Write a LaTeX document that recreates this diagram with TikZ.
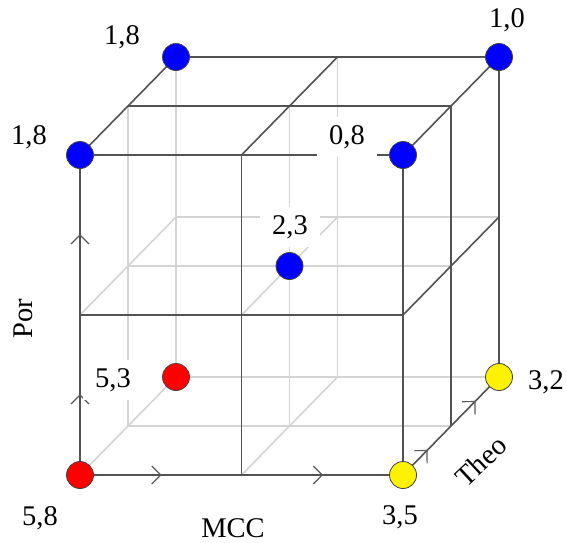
\documentclass[tikz,border=0pt]{standalone}
\usepackage{fontspec}
\setmainfont{Liberation Serif}
\usetikzlibrary{decorations.markings}
\begin{document}
\begin{tikzpicture}[x=1pt,y=-1pt,
  darkline/.style={draw=black!68, line width=1.6pt},
  lightline/.style={draw=black!17, line width=1.6pt},
  lbl/.style={font=\fontsize{28.5}{33}\selectfont, inner sep=0pt},
  numlbl/.style={lbl, fill=white, inner xsep=12pt, inner ysep=8pt},
  dotnode/.style={circle, draw=black!75, line width=0.8pt, minimum size=27pt, inner sep=0pt},
  bdot/.style={dotnode, fill=blue},
  rdot/.style={dotnode, fill=red},
  ydot/.style={dotnode, fill=yellow},
  chevs/.style={postaction={decorate}, decoration={markings,
     mark=at position 0.25 with {\draw[black!65, line width=1.2pt] (-9,9)--(0,0)--(-9,-9);},
     mark=at position 0.75 with {\draw[black!65, line width=1.2pt] (-9,9)--(0,0)--(-9,-9);}}}
]
\useasboundingbox (0,0) rectangle (567,542);
% grid points
\foreach \i in {0,1,2}{\foreach \j in {0,1,2}{\foreach \k in {0,1,2}{
  \coordinate (p\i\j\k) at ({80+161.5*\i+48*\k},{475-160*\j-49*\k});
}}}
% hidden / inner light lines
\draw[lightline] (p002) -- (p202);
\draw[lightline] (p012) -- (p212);
\draw[lightline] (p002) -- (p022);
\draw[lightline] (p102) -- (p122);
\draw[lightline] (p001) -- (p201);
\draw[lightline] (p011) -- (p211);
\draw[lightline] (p001) -- (p021);
\draw[lightline] (p101) -- (p121);
\draw[lightline] (p000) -- (p002);
\draw[lightline] (p100) -- (p102);
\draw[lightline] (p010) -- (p012);
\draw[lightline] (p110) -- (p112);
% visible dark lines
\draw[darkline] (p100) -- (p120);
\draw[darkline] (p200) -- (p220);
\draw[darkline] (p010) -- (p210);
\draw[darkline] (p020) -- (p220);
\draw[darkline] (p020) -- (p022);
\draw[darkline] (p120) -- (p122);
\draw[darkline] (p220) -- (p222);
\draw[darkline] (p021) -- (p221);
\draw[darkline] (p022) -- (p222);
\draw[darkline] (p210) -- (p212);
\draw[darkline] (p201) -- (p221);
\draw[darkline] (p202) -- (p222);
% axes with chevrons
\draw[darkline, chevs] (p000) -- (p020);
\draw[darkline, chevs] (p000) -- (p200);
\draw[darkline, chevs] (p200) -- (p202);
% value labels
\node[numlbl] (l022) at (122,37) {1,8};
\node[numlbl] (l020) at (29,137) {1,8};
\node[numlbl] (l222) at (507,20) {1,0};
\node[numlbl] (l220) at (347,137) {0,8};
\node[numlbl] (l111) at (290,227) {2,3};
\node[numlbl] (l002) at (113,380) {5,3};
\node[numlbl] (l000) at (40,518) {5,8};
\node[numlbl] (l200) at (400,517) {3,5};
\node[numlbl] (l202) at (546,382) {3,2};
% axis labels
\node[lbl] (mcc) at (233,528) {MCC};
\node[lbl, rotate=90] (por) at (23,319) {Por};
\node[lbl, rotate=43] (theo) at (481,461) {Theo};
% dots
\node[bdot] (n022) at (p022) {};
\node[bdot] (n020) at (p020) {};
\node[bdot] (n222) at (p222) {};
\node[bdot] (n220) at (p220) {};
\node[bdot] (n111) at (p111) {};
\node[rdot] (n002) at (p002) {};
\node[rdot] (n000) at (p000) {};
\node[ydot] (n200) at (p200) {};
\node[ydot] (n202) at (p202) {};
\end{tikzpicture}
\end{document}
